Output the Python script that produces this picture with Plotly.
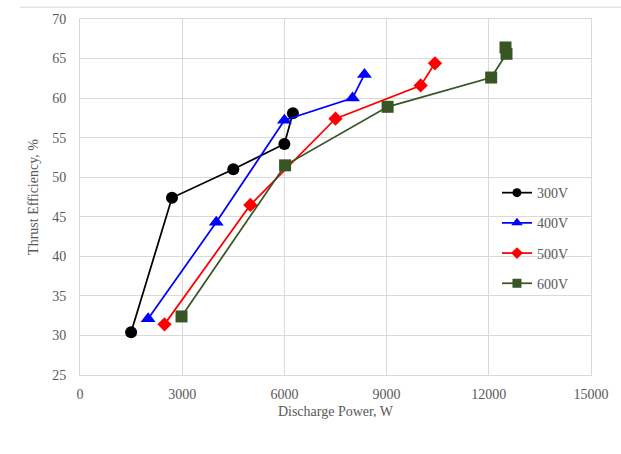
import plotly.graph_objects as go

# Discharge power (W) and thrust efficiency (%) for each discharge voltage
power_300 = [1500, 2700, 4500, 6000, 6250]
eff_300 = [30.4, 47.4, 51.0, 54.2, 58.1]

power_400 = [2000, 4000, 6000, 8000, 8350]
eff_400 = [32.1, 44.3, 57.2, 60.0, 63.0]

power_500 = [2480, 5000, 7500, 10000, 10420]
eff_500 = [31.4, 46.5, 57.4, 61.6, 64.4]

power_600 = [2980, 6020, 9030, 12070, 12520, 12490]
eff_600 = [32.4, 51.5, 58.9, 62.6, 65.6, 66.4]

series_names = ["300V", "400V", "500V", "600V"]
x_ticks = [0, 3000, 6000, 9000, 12000, 15000]
y_ticks = [25, 30, 35, 40, 45, 50, 55, 60, 65, 70]

colors = ["#000000", "#0000FF", "#FF0000", "#375623"]
symbols = ["circle", "triangle-up", "diamond", "square"]
sizes = [12, 13, 11, 12]
legend_sizes = [9, 10, 9, 9]

TXT = "#595959"
GRID = "#d9d9d9"
FONT = "Liberation Serif"

fig = go.Figure()
data = [(power_300, eff_300), (power_400, eff_400), (power_500, eff_500), (power_600, eff_600)]
for i, (xs, ys) in enumerate(data):
    fig.add_trace(go.Scatter(
        x=xs, y=ys, mode="lines+markers", name=series_names[i],
        line=dict(color=colors[i], width=1.75),
        marker=dict(symbol=symbols[i], size=sizes[i], color=colors[i]),
        showlegend=False,
    ))
# legend entries with smaller symbols
for i in range(4):
    fig.add_trace(go.Scatter(
        x=[None], y=[None], mode="lines+markers", name=series_names[i],
        line=dict(color=colors[i], width=1.75),
        marker=dict(symbol=symbols[i], size=legend_sizes[i], color=colors[i]),
        legendgroup=series_names[i],
    ))

fig.update_layout(
    width=621, height=454,
    margin=dict(l=80, r=29, t=17, b=79),
    paper_bgcolor="white", plot_bgcolor="white",
    font=dict(family=FONT, color=TXT, size=14),
    showlegend=True,
    legend=dict(
        x=0.816, y=0.556, xanchor="left", yanchor="top",
        bgcolor="rgba(0,0,0,0)", font=dict(family=FONT, size=14, color=TXT),
        traceorder="grouped", tracegroupgap=9, itemwidth=30,
    ),
    xaxis=dict(
        range=[0, 15000], tickvals=x_ticks, ticktext=[str(v) for v in x_ticks],
        showgrid=True, gridcolor=GRID, gridwidth=1,
        showline=True, linecolor=GRID, linewidth=1, mirror=True,
        zeroline=False, ticks="", ticklabelstandoff=6,
        tickfont=dict(family=FONT, size=14, color=TXT),
        title=dict(text="Discharge Power, W", font=dict(family=FONT, size=14, color=TXT), standoff=5),
    ),
    yaxis=dict(
        range=[25, 70], tickvals=y_ticks,
        showgrid=True, gridcolor=GRID, gridwidth=1,
        showline=True, linecolor=GRID, linewidth=1, mirror=True,
        zeroline=False, ticks="", ticklabelstandoff=10,
        tickfont=dict(family=FONT, size=14, color=TXT),
        title=dict(text="Thrust Efficiency, %", font=dict(family=FONT, size=14, color=TXT), standoff=10),
    ),
)

# thin frame line across the top of the chart area
fig.add_shape(type="line", xref="paper", yref="paper",
              x0=-0.118, x1=1.06, y0=1.033, y1=1.033,
              line=dict(color="#e3e3e3", width=1.5))

fig.write_html("out.html")
